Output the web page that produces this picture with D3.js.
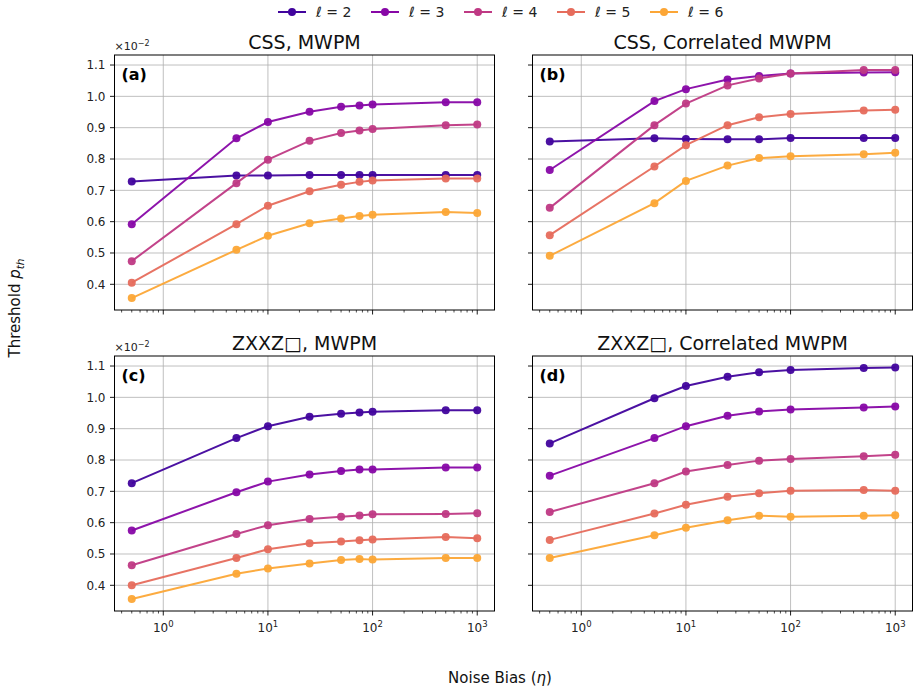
<!DOCTYPE html>
<html>
<head>
<meta charset="utf-8">
<script src="https://cdn.jsdelivr.net/npm/d3@7"></script>
<style>
  body { margin: 0; background: #fff; }
  svg { font-family: "DejaVu Sans", sans-serif; }
</style>
</head>
<body>
<svg width="920" height="693"></svg>
<script>
// noise bias values (panels a, c include eta = 75)
const ETA_FULL = [0.5, 5, 10, 25, 50, 75, 100, 500, 1000];
const ETA_SHORT = [0.5, 5, 10, 25, 50, 100, 500, 1000];
const DISTANCES = [2, 3, 4, 5, 6];
const Y_TICKS = [0.4, 0.5, 0.6, 0.7, 0.8, 0.9, 1.0, 1.1];
const X_TICKS = [1, 10, 100, 1000];

// thresholds (x 10^-2), one row per distance l = 2..6
const CSS_MWPM = [
    [0.728, 0.747, 0.747, 0.749, 0.749, 0.749, 0.749, 0.749, 0.749],
    [0.592, 0.866, 0.918, 0.951, 0.967, 0.971, 0.974, 0.981, 0.981],
    [0.474, 0.723, 0.798, 0.858, 0.883, 0.891, 0.896, 0.908, 0.910],
    [0.405, 0.592, 0.651, 0.697, 0.718, 0.727, 0.731, 0.738, 0.738],
    [0.356, 0.510, 0.555, 0.595, 0.610, 0.618, 0.622, 0.631, 0.628]
];
const CSS_CORR = [
    [0.856, 0.866, 0.864, 0.863, 0.863, 0.867, 0.867, 0.867],
    [0.765, 0.985, 1.023, 1.054, 1.065, 1.073, 1.076, 1.077],
    [0.644, 0.908, 0.977, 1.035, 1.057, 1.073, 1.084, 1.084],
    [0.557, 0.776, 0.844, 0.908, 0.933, 0.944, 0.955, 0.957],
    [0.491, 0.659, 0.730, 0.779, 0.803, 0.809, 0.815, 0.820]
];
const ZXXZ_MWPM = [
    [0.726, 0.870, 0.908, 0.938, 0.948, 0.952, 0.954, 0.959, 0.959],
    [0.575, 0.697, 0.731, 0.754, 0.765, 0.770, 0.770, 0.776, 0.776],
    [0.464, 0.564, 0.592, 0.612, 0.619, 0.623, 0.627, 0.628, 0.630],
    [0.400, 0.487, 0.515, 0.534, 0.540, 0.544, 0.546, 0.554, 0.550],
    [0.356, 0.437, 0.454, 0.470, 0.481, 0.484, 0.482, 0.487, 0.487]
];
const ZXXZ_CORR = [
    [0.853, 0.997, 1.036, 1.066, 1.080, 1.087, 1.094, 1.095],
    [0.750, 0.870, 0.908, 0.941, 0.955, 0.961, 0.968, 0.971],
    [0.634, 0.726, 0.763, 0.784, 0.798, 0.803, 0.812, 0.817],
    [0.545, 0.629, 0.657, 0.683, 0.694, 0.702, 0.704, 0.702],
    [0.487, 0.560, 0.584, 0.608, 0.622, 0.619, 0.622, 0.624]
];

const PANELS = [
    { title: 'CSS, MWPM', tag: '(a)', eta: ETA_FULL, data: CSS_MWPM, col: 0, row: 0 },
    { title: 'CSS, Correlated MWPM', tag: '(b)', eta: ETA_SHORT, data: CSS_CORR, col: 1, row: 0 },
    { title: 'ZXXZ\u25A1, MWPM', tag: '(c)', eta: ETA_FULL, data: ZXXZ_MWPM, col: 0, row: 1 },
    { title: 'ZXXZ\u25A1, Correlated MWPM', tag: '(d)', eta: ETA_SHORT, data: ZXXZ_CORR, col: 1, row: 1 }
];

const COLORS = [0.1, 0.275, 0.45, 0.625, 0.8].map(t => d3.interpolatePlasma(t));

const COL_X = [114.5, 532.5];
const ROW_Y = [55, 356];
const PW = 380, PH = 255;

const svg = d3.select('svg');

const x = d3.scaleLog().domain([Math.pow(10, -0.466), Math.pow(10, 3.165)]).range([0, PW]);
const y = d3.scaleLinear().domain([0.318, 1.132]).range([PH, 0]);

// minor ticks for log axis
const minorTicks = [];
for (let k = -1; k <= 3; k++) {
    for (let m = 2; m <= 9; m++) {
        const v = m * Math.pow(10, k);
        if (v >= x.domain()[0] && v <= x.domain()[1]) minorTicks.push(v);
    }
}

PANELS.forEach(p => {
    const g = svg.append('g')
        .attr('transform', `translate(${COL_X[p.col]},${ROW_Y[p.row]})`);

    // grid
    g.append('g').selectAll('line').data(X_TICKS).enter().append('line')
        .attr('x1', d => x(d)).attr('x2', d => x(d))
        .attr('y1', 0).attr('y2', PH)
        .attr('stroke', '#b0b0b0').attr('stroke-width', 0.8);
    g.append('g').selectAll('line').data(Y_TICKS).enter().append('line')
        .attr('x1', 0).attr('x2', PW)
        .attr('y1', d => y(d)).attr('y2', d => y(d))
        .attr('stroke', '#b0b0b0').attr('stroke-width', 0.8);

    // series
    const line = d3.line().x(d => x(d[0])).y(d => y(d[1]));
    p.data.forEach((vals, i) => {
        const pts = p.eta.map((e, j) => [e, vals[j]]);
        g.append('path')
            .datum(pts)
            .attr('d', line)
            .attr('fill', 'none')
            .attr('stroke', COLORS[i])
            .attr('stroke-width', 2)
            .attr('opacity', 0.95);
        g.append('g').selectAll('circle').data(pts).enter().append('circle')
            .attr('cx', d => x(d[0]))
            .attr('cy', d => y(d[1]))
            .attr('r', 4)
            .attr('fill', COLORS[i])
            .attr('opacity', 0.95);
    });

    // frame
    g.append('rect')
        .attr('width', PW).attr('height', PH)
        .attr('fill', 'none').attr('stroke', '#000').attr('stroke-width', 1);

    // x axis ticks
    const xa = g.append('g').attr('transform', `translate(0,${PH})`);
    xa.selectAll('.maj').data(X_TICKS).enter().append('line')
        .attr('x1', d => x(d)).attr('x2', d => x(d))
        .attr('y1', 0).attr('y2', 4.5).attr('stroke', '#000').attr('stroke-width', 0.9);
    xa.selectAll('.min').data(minorTicks).enter().append('line')
        .attr('x1', d => x(d)).attr('x2', d => x(d))
        .attr('y1', 0).attr('y2', 2.5).attr('stroke', '#000').attr('stroke-width', 0.7);
    if (p.row === 1) {
        const lbl = xa.selectAll('text').data(X_TICKS).enter().append('text')
            .attr('x', d => x(d)).attr('y', 21)
            .attr('text-anchor', 'middle')
            .attr('font-size', 12).attr('fill', '#222');
        lbl.append('tspan').text('10');
        lbl.append('tspan').attr('font-size', 8.5).attr('dy', -5)
            .text(d => Math.round(Math.log10(d)));
    }

    // y axis ticks
    const ya = g.append('g');
    ya.selectAll('line').data(Y_TICKS).enter().append('line')
        .attr('x1', -4.5).attr('x2', 0)
        .attr('y1', d => y(d)).attr('y2', d => y(d))
        .attr('stroke', '#000').attr('stroke-width', 0.9);
    if (p.col === 0) {
        ya.selectAll('text').data(Y_TICKS).enter().append('text')
            .attr('x', -9).attr('y', d => y(d) + 4.3)
            .attr('text-anchor', 'end')
            .attr('font-size', 12).attr('fill', '#222')
            .text(d => d.toFixed(1));
        const off = g.append('text').attr('x', 0).attr('y', -5)
            .attr('font-size', 11).attr('fill', '#222');
        off.append('tspan').text('\u00D710');
        off.append('tspan').attr('font-size', 8).attr('dy', -4).text('\u22122');
    }

    // title and panel tag
    g.append('text')
        .attr('x', PW / 2).attr('y', -6)
        .attr('text-anchor', 'middle')
        .attr('font-size', 19).attr('fill', '#111')
        .text(p.title);
    g.append('text')
        .attr('x', 7).attr('y', 25)
        .attr('font-size', 16).attr('font-weight', 'bold').attr('fill', '#000')
        .text(p.tag);
});

// legend
const legend = svg.append('g').selectAll('g').data(DISTANCES).enter().append('g')
    .attr('transform', (d, i) => `translate(${278 + i * 93},12)`);
legend.append('line')
    .attr('x1', 0).attr('x2', 28).attr('y1', 0).attr('y2', 0)
    .attr('stroke', (d, i) => COLORS[i]).attr('stroke-width', 2);
legend.append('circle')
    .attr('cx', 14).attr('cy', 0).attr('r', 4)
    .attr('fill', (d, i) => COLORS[i]);
const lt = legend.append('text')
    .attr('x', 38).attr('y', 5)
    .attr('font-size', 14).attr('fill', '#222');
lt.append('tspan').attr('font-style', 'italic').text('\u2113');
lt.append('tspan').text(d => ' = ' + d);

// axis labels
svg.append('text')
    .attr('x', 500).attr('y', 683)
    .attr('text-anchor', 'middle')
    .attr('font-size', 15).attr('fill', '#111')
    .call(t => {
        t.append('tspan').text('Noise Bias (');
        t.append('tspan').attr('font-style', 'italic').text('\u03B7');
        t.append('tspan').text(')');
    });
const yl = svg.append('text')
    .attr('transform', 'translate(20,308) rotate(-90)')
    .attr('text-anchor', 'middle')
    .attr('font-size', 15).attr('fill', '#111');
yl.append('tspan').text('Threshold ');
yl.append('tspan').attr('font-style', 'italic').text('p');
yl.append('tspan').attr('font-style', 'italic').attr('font-size', 10.5).attr('dy', 4).text('th');
</script>
</body>
</html>
